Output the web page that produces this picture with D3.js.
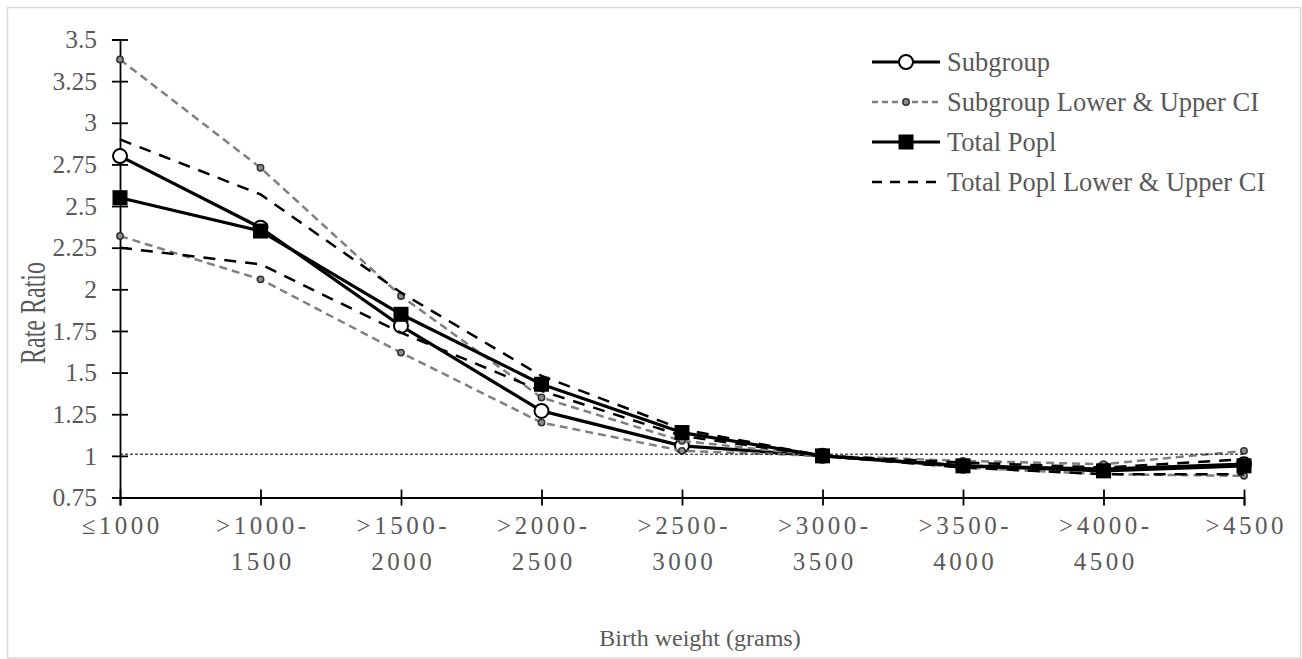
<!DOCTYPE html>
<html>
<head>
<meta charset="utf-8">
<script src="https://cdn.jsdelivr.net/npm/d3@7"></script>
<style>
  html, body { margin: 0; padding: 0; background: #fff; }
  svg { display: block; }
  text { font-family: "Liberation Serif", "Times New Roman", serif; fill: #595959; }
</style>
</head>
<body>
<svg id="chart" width="1302" height="659"></svg>
<script>
// ---- data ----
const categories = ["≤1000", ">1000-\n1500", ">1500-\n2000", ">2000-\n2500", ">2500-\n3000", ">3000-\n3500", ">3500-\n4000", ">4000-\n4500", ">4500"];
const subgroup   = [2.80, 2.37, 1.78, 1.27, 1.06, 1.00, 0.94, 0.92, 0.95];
const subLower   = [2.32, 2.06, 1.62, 1.20, 1.03, 1.00, 0.93, 0.89, 0.88];
const subUpper   = [3.38, 2.73, 1.96, 1.35, 1.09, 1.00, 0.97, 0.95, 1.03];
const total      = [2.55, 2.35, 1.85, 1.43, 1.14, 1.00, 0.94, 0.91, 0.94];
const totalLower = [2.25, 2.15, 1.74, 1.39, 1.12, 1.00, 0.93, 0.89, 0.89];
const totalUpper = [2.90, 2.57, 1.98, 1.48, 1.16, 1.00, 0.96, 0.93, 0.98];
const reference  = [1.01, 1.01, 1.01, 1.01, 1.01, 1.01, 1.01, 1.01, 1.01];
const yTicks = [0.75, 1, 1.25, 1.5, 1.75, 2, 2.25, 2.5, 2.75, 3, 3.25, 3.5];
const legendLabels = ["Subgroup", "Subgroup Lower & Upper CI", "Total Popl", "Total Popl Lower & Upper CI"];
const yTitle = "Rate Ratio";
const xTitle = "Birth weight (grams)";

// ---- layout ----
const svg = d3.select("#chart");
const plotLeft = 120, plotRight = 1244, plotTop = 39.5, plotBottom = 497.5;

svg.append("rect").attr("x", 7.5).attr("y", 7.5).attr("width", 1293).attr("height", 650.5)
  .attr("fill", "#fff").attr("stroke", "#d9d9d9").attr("stroke-width", 1.5);

const x = d3.scalePoint().domain(d3.range(categories.length)).range([plotLeft, plotRight]);
const y = d3.scaleLinear().domain([0.75, 3.5]).range([plotBottom, plotTop]);

// y axis
const yAxis = svg.append("g").attr("transform", `translate(${plotLeft},0)`)
  .call(d3.axisLeft(y).tickValues(yTicks).tickSize(8).tickPadding(15).tickFormat(d => String(d)));
yAxis.select(".domain").attr("stroke", "#000").attr("stroke-width", 1.8);
yAxis.selectAll(".tick line").attr("x1", -8).attr("x2", 8).attr("stroke", "#000").attr("stroke-width", 1.8);
yAxis.selectAll(".tick text").attr("font-size", 25.5).attr("fill", "#595959")
  .style("font-family", '"Liberation Serif", serif');

// x axis
const xAxis = svg.append("g").attr("transform", `translate(0,${plotBottom})`)
  .call(d3.axisBottom(x).tickSize(8).tickFormat(""));
xAxis.select(".domain").attr("stroke", "#000").attr("stroke-width", 1.8);
xAxis.selectAll(".tick line").attr("y1", -8).attr("y2", 8).attr("stroke", "#000").attr("stroke-width", 1.8);
xAxis.selectAll(".tick").each(function(d) {
  const lines = categories[d].split("\n");
  const t = d3.select(this).append("text")
    .attr("text-anchor", "middle").attr("font-size", 25).attr("letter-spacing", 3.5)
    .attr("fill", "#595959").style("font-family", '"Liberation Serif", serif');
  lines.forEach((ln, i) => {
    t.append("tspan").attr("x", 1.75).attr("y", 36 + i * 36).text(ln);
  });
});

// titles
svg.append("text").attr("transform", "translate(45,313) scale(1.45,1) rotate(-90)")
  .attr("text-anchor", "middle").attr("font-size", 24).text(yTitle);
svg.append("text").attr("x", 700).attr("y", 646).attr("text-anchor", "middle")
  .attr("font-size", 24).text(xTitle);

// ---- series ----
const line = d3.line().x((d, i) => x(i)).y(d => y(d));
const series = [
  { data: subgroup,   stroke: "#000", width: 3.2, dash: null,   marker: "circle" },
  { data: subLower,   stroke: "#808080", width: 2.5, dash: "8,5", marker: "dot" },
  { data: subUpper,   stroke: "#808080", width: 2.5, dash: "8,5", marker: "dot" },
  { data: total,      stroke: "#000", width: 3.2, dash: null,   marker: "square" },
  { data: totalLower, stroke: "#000", width: 2.5, dash: "12,9", marker: null },
  { data: totalUpper, stroke: "#000", width: 2.5, dash: "12,9", marker: null },
  { data: reference,  stroke: "#000", width: 1,   dash: "3,2",  marker: null }
];

function drawMarker(g, type, cx, cy) {
  if (type === "circle") {
    g.append("circle").attr("cx", cx).attr("cy", cy).attr("r", 7)
      .attr("fill", "#fff").attr("stroke", "#000").attr("stroke-width", 2);
  } else if (type === "dot") {
    g.append("circle").attr("cx", cx).attr("cy", cy).attr("r", 3.2)
      .attr("fill", "#8c8c8c").attr("stroke", "#333").attr("stroke-width", 1.5);
  } else if (type === "square") {
    g.append("rect").attr("x", cx - 7.5).attr("y", cy - 7.5).attr("width", 15).attr("height", 15)
      .attr("fill", "#000");
  }
}

const plot = svg.append("g");
series.forEach(s => {
  const g = plot.append("g");
  g.append("path").attr("d", line(s.data)).attr("fill", "none")
    .attr("stroke", s.stroke).attr("stroke-width", s.width)
    .attr("stroke-dasharray", s.dash).attr("stroke-linejoin", "round");
  if (s.marker) s.data.forEach((v, i) => drawMarker(g, s.marker, x(i), y(v)));
});

// ---- legend ----
const legendItems = [
  { stroke: "#000", width: 3, dash: null, marker: "circle" },
  { stroke: "#808080", width: 2.5, dash: "6,4", marker: "dot" },
  { stroke: "#000", width: 3, dash: null, marker: "square" },
  { stroke: "#000", width: 2.5, dash: "10,8", marker: null }
];
const leg = svg.append("g");
legendItems.forEach((it, i) => {
  const ly = 62 + i * 40;
  leg.append("line").attr("x1", 872).attr("x2", 940).attr("y1", ly).attr("y2", ly)
    .attr("stroke", it.stroke).attr("stroke-width", it.width).attr("stroke-dasharray", it.dash);
  drawMarker(leg, it.marker, 906, ly);
  leg.append("text").attr("x", 947).attr("y", ly).attr("dy", "0.33em")
    .attr("font-size", 26.5).text(legendLabels[i]);
});
</script>
</body>
</html>
